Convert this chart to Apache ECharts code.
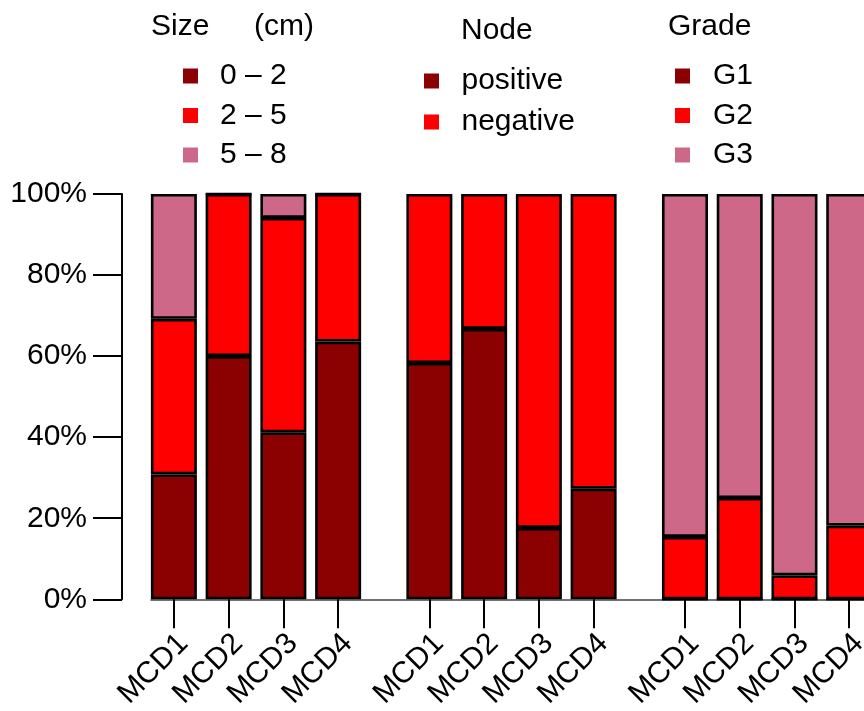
<!DOCTYPE html>
<html>
<head>
<meta charset="utf-8">
<script src="https://cdn.jsdelivr.net/npm/echarts@6/dist/echarts.min.js"></script>
<style>
html,body{margin:0;padding:0;background:#fff;}
#chart{width:864px;height:711px;}
</style>
</head>
<body>
<div id="chart"></div>
<script>
// ---- data ----
const categories = ['MCD1', 'MCD2', 'MCD3', 'MCD4'];
const sizeNames = ['0 – 2', '2 – 5', '5 – 8'];
const size02 = [30.8, 60.0, 41.2, 63.6];
const size25 = [38.4, 40.0, 52.9, 36.4];
const size58 = [30.8, 0, 5.9, 0];
const nodeNames = ['positive', 'negative'];
const nodePos = [58.3, 66.7, 17.6, 27.3];
const nodeNeg = [41.7, 33.3, 82.4, 72.7];
const gradeNames = ['G1', 'G2', 'G3'];
const gradeG1 = [0, 0, 0, 0];
const gradeG2 = [15.4, 25.0, 5.9, 18.2];
const gradeG3 = [84.6, 75.0, 94.1, 81.8];
const groupTitles = ['Size', '(cm)', 'Node', 'Grade'];
const yTickValues = [0, 20, 40, 60, 80, 100];

// ---- style ----
const C_DARK = '#8B0000', C_RED = '#FF0000', C_PINK = '#CD6889';
const FONT = "'Liberation Sans', Arial, Helvetica, sans-serif";
const FS = 30;
const gridTop = 194, gridH = 405.3, step = 54.75;
const gridLefts = [146.5, 402, 657.6];

const grids = gridLefts.map(l => ({left: l, top: gridTop, width: step * 4, height: gridH, outerBoundsMode: 'none', containLabel: false}));
grids.push({left: 151, right: 0, top: gridTop, height: gridH, outerBoundsMode: 'none', containLabel: false}); // x-axis baseline

const xAxes = gridLefts.map((l, i) => ({
  type: 'category', gridIndex: i, data: categories,
  axisLine: {show: false},
  axisTick: {show: true, alignWithLabel: true, length: 29, lineStyle: {color: '#000', width: 2}},
  axisLabel: {rotate: 45, fontSize: FS, fontFamily: FONT, color: '#000', margin: 30,
              verticalAlign: 'top', lineHeight: 27, interval: 0},
  splitLine: {show: false}
}));
xAxes.push({type: 'value', gridIndex: 3, min: 0, max: 1,
  axisLine: {show: true, onZero: false, lineStyle: {color: '#444', width: 1.5}},
  axisTick: {show: false}, axisLabel: {show: false}, splitLine: {show: false}});

const yAxes = [0, 1, 2, 3].map(i => ({
  type: 'value', gridIndex: i, min: yTickValues[0], max: yTickValues[yTickValues.length - 1],
  interval: yTickValues[1] - yTickValues[0],
  show: i === 0,
  position: 'left', offset: i === 0 ? 24.5 : 0,
  axisLine: {show: true, lineStyle: {color: '#000', width: 2}},
  axisTick: {show: true, length: 29, lineStyle: {color: '#000', width: 2}},
  axisLabel: {formatter: '{value}%', fontSize: FS, fontFamily: FONT, color: '#000', margin: 35},
  splitLine: {show: false}
}));

function bar(name, data, color, gi) {
  return {
    name, type: 'bar', data, xAxisIndex: gi, yAxisIndex: gi, stack: 'g' + gi,
    barWidth: 46,
    itemStyle: {color, borderColor: '#000', borderWidth: 2.6},
    emphasis: {disabled: true}
  };
}

const series = [
  bar(sizeNames[0], size02, C_DARK, 0),
  bar(sizeNames[1], size25, C_RED, 0),
  bar(sizeNames[2], size58, C_PINK, 0),
  bar(nodeNames[0], nodePos, C_DARK, 1),
  bar(nodeNames[1], nodeNeg, C_RED, 1),
  bar(gradeNames[0], gradeG1, C_DARK, 2),
  bar(gradeNames[1], gradeG2, C_RED, 2),
  bar(gradeNames[2], gradeG3, C_PINK, 2)
];

function legend(data, left, top, gap, textPad) {
  return {
    data, left, top, orient: 'vertical', padding: 0,
    itemWidth: 15, itemHeight: 15, itemGap: gap, icon: 'rect',
    itemStyle: {borderWidth: 0},
    selectedMode: false,
    textStyle: {fontSize: FS, fontFamily: FONT, color: '#000', lineHeight: 30, padding: [0, 0, 0, textPad]}
  };
}

function ttl(text, left, top) {
  return {text, left, top, padding: 0,
    textStyle: {fontSize: FS, fontFamily: FONT, color: '#000', fontWeight: 'normal', lineHeight: 30}};
}

const option = {
  animation: false,
  backgroundColor: '#fff',
  title: [
    ttl(groupTitles[0], 151, 12),
    ttl(groupTitles[1], 254, 12),
    ttl(groupTitles[2], 461, 16),
    ttl(groupTitles[3], 668, 12)
  ],
  legend: [
    legend(sizeNames, 183, 61, 9.5, 17),
    legend(nodeNames, 424, 66, 11, 17.5),
    legend(gradeNames, 675, 61, 9.5, 18)
  ],
  grid: grids,
  xAxis: xAxes,
  yAxis: yAxes,
  series
};

const chart = echarts.init(document.getElementById('chart'), null, {renderer: 'canvas'});
chart.setOption(option);
</script>
</body>
</html>
